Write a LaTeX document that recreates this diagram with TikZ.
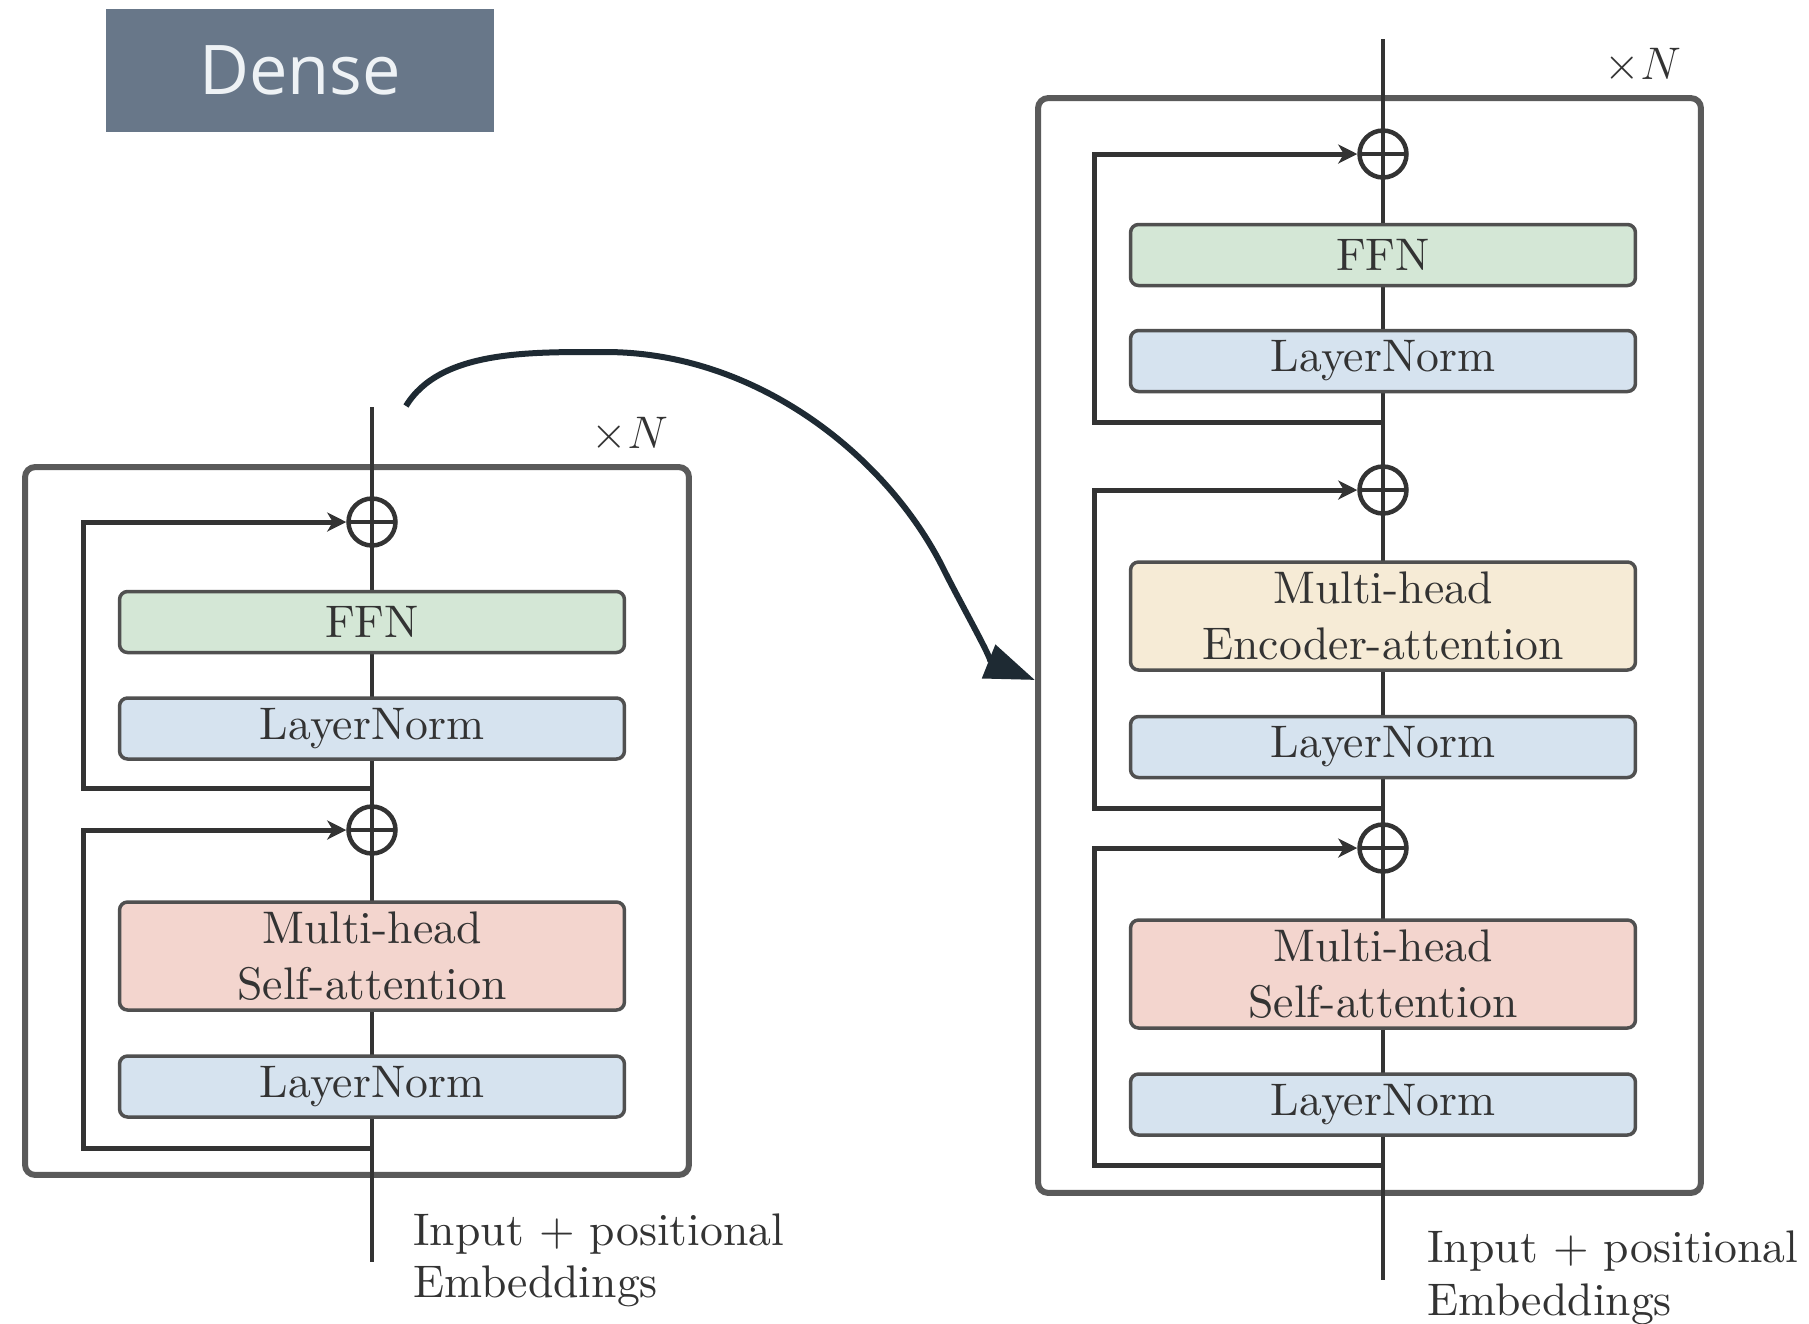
\RequirePackage{fix-cm}
\documentclass[tikz,border=0pt]{standalone}
\usepackage{fontspec}
\setmainfont{lmroman10-regular.otf}[ItalicFont=lmroman10-italic.otf, BoldFont=lmroman10-bold.otf]
\newfontfamily\tagsans{Open Sans}
\usetikzlibrary{arrows.meta}

\definecolor{ink}{HTML}{333333}
\definecolor{framegray}{HTML}{5A5A5A}
\definecolor{edgegray}{HTML}{505050}
\definecolor{ffngreen}{HTML}{D4E7D6}
\definecolor{normblue}{HTML}{D6E3EF}
\definecolor{selfpink}{HTML}{F3D5CE}
\definecolor{encocream}{HTML}{F6EBD6}
\definecolor{slate}{HTML}{687789}
\definecolor{slatetext}{HTML}{EEF2F5}
\definecolor{curvenavy}{HTML}{1E2A33}

\begin{document}
\begin{tikzpicture}[x=0.02cm, y=-0.02cm,
  txt/.style={text=ink, font=\fontsize{26pt}{32pt}\selectfont, inner sep=0pt},
  stackframe/.style={draw=framegray, line width=0.12cm, rounded corners=0.2cm, inner sep=0pt},
  blk/.style={draw=edgegray, line width=0.07cm, rounded corners=0.16cm,
              minimum width=10.1cm, inner sep=0pt, align=center, text=ink,
              font=\fontsize{26pt}{32pt}\selectfont},
  slimblk/.style={blk, minimum height=1.22cm},
  tallblk/.style={blk, minimum height=2.16cm},
  addnode/.style={circle, draw=ink, line width=0.09cm, minimum size=0.94cm,
              inner sep=0pt, fill=white,
              path picture={\draw[ink, line width=0.09cm]
                (path picture bounding box.west) -- (path picture bounding box.east)
                (path picture bounding box.north) -- (path picture bounding box.south);}},
  spine/.style={draw=ink, line width=0.08cm},
  residual/.style={draw=ink, line width=0.1cm,
              -{Stealth[length=0.38cm, width=0.38cm, inset=0.11cm]}},
  bridge/.style={draw=curvenavy, line width=0.12cm,
              -{Triangle[length=1.0cm, width=0.7cm]}},
]
\useasboundingbox (0,0) rectangle (1809,1323);

% title tag
\node[fill=slate, minimum width=7.76cm, minimum height=2.46cm, inner sep=0pt,
      text=slatetext, font=\tagsans\fontsize{39pt}{39pt}\selectfont]
      (dense) at (300,70.5) {Dense};

% ---------------- encoder layer (left) ----------------
\node[stackframe, minimum width=13.28cm, minimum height=14.16cm] (lframe) at (357,821) {};
\node[txt] (lrep) at (630,435) {$\times N$};

\coordinate (ltop) at (372,407);
\coordinate (lbot) at (372,1262);
\coordinate (lout1) at (372,788);
\coordinate (lturn1) at (83,788);
\coordinate (lout2) at (372,1148);
\coordinate (lturn2) at (83,1148);

\draw[spine] (ltop) -- (lbot);

\node[addnode] (lsum1) at (372,522) {};
\node[addnode] (lsum2) at (372,830) {};
\draw[residual] (lout1) -- (lturn1) |- (lsum1.west);
\draw[residual] (lout2) -- (lturn2) |- (lsum2.west);

\node[slimblk, fill=ffngreen] (lffn) at (372,622) {FFN};
\node[slimblk, fill=normblue] (lnorm1) at (372,728.5) {LayerNorm};
\node[tallblk, fill=selfpink] (lself) at (372,956) {Multi-head\\Self-attention};
\node[slimblk, fill=normblue] (lnorm2) at (372,1086.5) {LayerNorm};

\node[txt, anchor=base west] (lin) at (413,1245) {Input + positional};
\node[txt, anchor=base west] (lemb) at (413,1297) {Embeddings};

% ---------------- decoder layer (right) ----------------
\node[stackframe, minimum width=13.26cm, minimum height=21.9cm] (rframe) at (1369.5,645.5) {};
\node[txt] (rrep) at (1643,66) {$\times N$};

\coordinate (rtop) at (1383,39);
\coordinate (rbot) at (1383,1280);
\coordinate (rout1) at (1383,422);
\coordinate (rturn1) at (1094,422);
\coordinate (rout2) at (1383,808);
\coordinate (rturn2) at (1094,808);
\coordinate (rout3) at (1383,1165);
\coordinate (rturn3) at (1094,1165);

\draw[spine] (rtop) -- (rbot);

\node[addnode] (rsum1) at (1383,154) {};
\node[addnode] (rsum2) at (1383,490) {};
\node[addnode] (rsum3) at (1383,848) {};
\draw[residual] (rout1) -- (rturn1) |- (rsum1.west);
\draw[residual] (rout2) -- (rturn2) |- (rsum2.west);
\draw[residual] (rout3) -- (rturn3) |- (rsum3.west);

\node[slimblk, fill=ffngreen] (rffn) at (1383,255) {FFN};
\node[slimblk, fill=normblue] (rnorm1) at (1383,361) {LayerNorm};
\node[tallblk, fill=encocream] (renc) at (1383,616) {Multi-head\\Encoder-attention};
\node[slimblk, fill=normblue] (rnorm2) at (1383,747) {LayerNorm};
\node[tallblk, fill=selfpink] (rself) at (1383,974) {Multi-head\\Self-attention};
\node[slimblk, fill=normblue] (rnorm3) at (1383,1104.5) {LayerNorm};

\node[txt, anchor=base west] (rin) at (1427,1262) {Input + positional};
\node[txt, anchor=base west] (remb) at (1427,1315) {Embeddings};

% ---------------- link between the two stacks ----------------
\coordinate (cstart) at (406,406);
\coordinate (cend) at (1035,680);
\draw[bridge] (cstart) .. controls (440,350) and (530,352) .. (605,352)
              .. controls (760,352) and (890,460) .. (944,570)
              .. controls (962,606) and (995,664) .. (cend);
\end{tikzpicture}
\end{document}
